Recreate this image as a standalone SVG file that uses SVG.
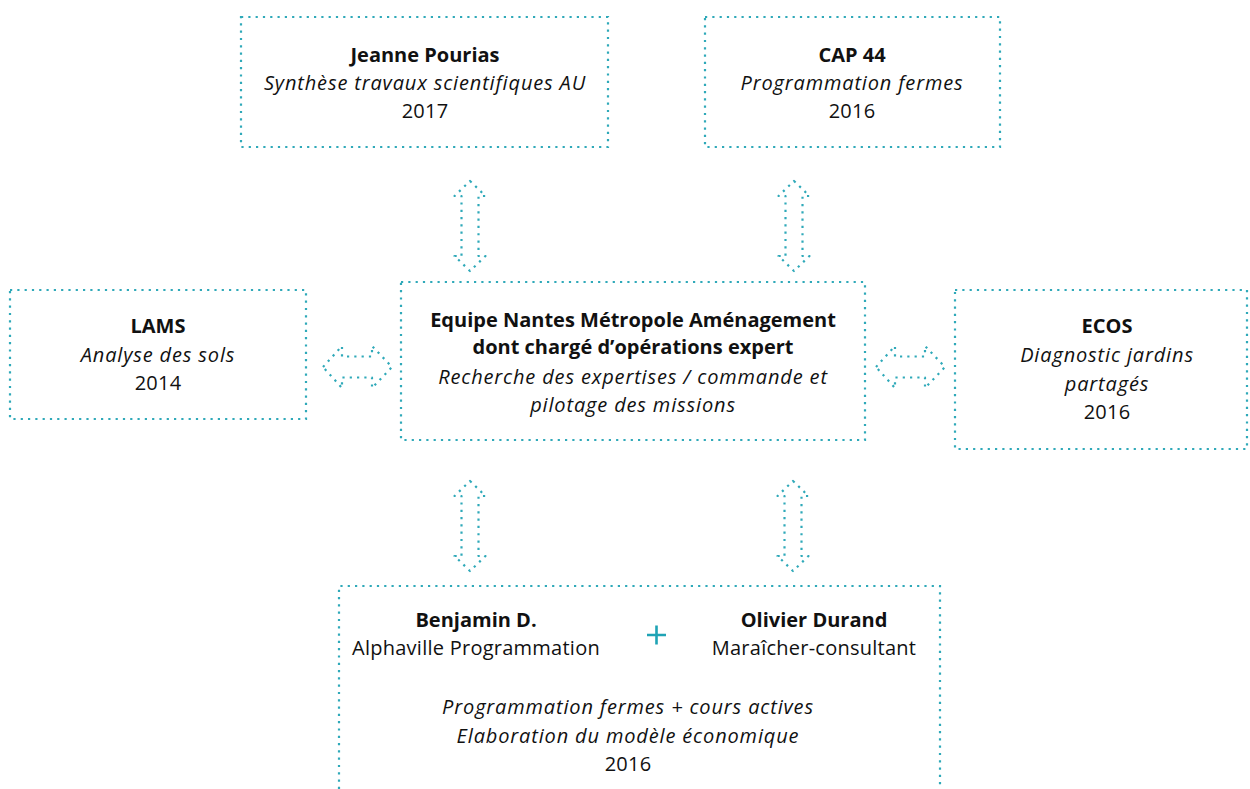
<svg xmlns="http://www.w3.org/2000/svg" width="1250" height="789" viewBox="0 0 1250 789">
<style>
.box{fill:none;stroke:#2fa9b9;stroke-width:2.2;stroke-dasharray:2.2 5.1}
.arr{fill:none;stroke:#2fa9b9;stroke-width:2.2;stroke-dasharray:2.2 5.1;stroke-linejoin:round}
text{font-family:"Open Sans","Liberation Sans",sans-serif;font-size:20px;fill:#111;text-anchor:middle;letter-spacing:0.25px}
.b{font-weight:bold;letter-spacing:0}
.i{font-style:italic;letter-spacing:0.85px}
</style>
<rect width="1250" height="789" fill="#fff"/>
<g id="jeanne">
<rect class="box" x="241" y="17" width="367" height="130"/>
<text class="b" x="425" y="62">Jeanne Pourias</text>
<text class="i" x="425" y="90">Synthèse travaux scientifiques AU</text>
<text x="425" y="118">2017</text>
</g>
<g id="cap44">
<rect class="box" x="705" y="17" width="295" height="130"/>
<text class="b" x="852" y="62">CAP 44</text>
<text class="i" x="852" y="90">Programmation fermes</text>
<text x="852" y="118">2016</text>
</g>
<g id="lams">
<rect class="box" x="10" y="290" width="296" height="129"/>
<text class="b" x="158" y="333">LAMS</text>
<text class="i" x="158" y="362">Analyse des sols</text>
<text x="158" y="390">2014</text>
</g>
<g id="centre">
<rect class="box" x="401" y="282" width="464" height="158"/>
<text class="b" x="633" y="327">Equipe Nantes Métropole Aménagement</text>
<text class="b" x="633" y="354">dont chargé d’opérations expert</text>
<text class="i" x="633" y="384">Recherche des expertises / commande et</text>
<text class="i" x="633" y="412">pilotage des missions</text>
</g>
<g id="ecos">
<rect class="box" x="955" y="290" width="292" height="159"/>
<text class="b" x="1107" y="333">ECOS</text>
<text class="i" x="1107" y="362">Diagnostic jardins</text>
<text class="i" x="1107" y="391">partagés</text>
<text x="1107" y="419">2016</text>
</g>
<g id="equipe-prog">
<path class="box" d="M339,789 V586 H940 V789"/>
<text class="b" x="476" y="627">Benjamin D.</text>
<text x="476" y="655">Alphaville Programmation</text>
<text class="b" x="814" y="627">Olivier Durand</text>
<text x="814" y="655">Maraîcher-consultant</text>
<path d="M647,635 H666 M656.5,625.5 V644.5" stroke="#1fa3b5" stroke-width="2.6" fill="none"/>
<text class="i" x="628" y="714">Programmation fermes + cours actives</text>
<text class="i" x="628" y="743">Elaboration du modèle économique</text>
<text x="628" y="771">2016</text>
</g>
<g id="connectors">
<path class="arr" d="M470,181 L485.5,196 H478.5 V256 H485.5 L470,271 L454.5,256 H461.5 V196 H454.5 Z"/>
<path class="arr" d="M794,181 L809.5,196 H802.5 V256 H809.5 L794,271 L778.5,256 H785.5 V196 H778.5 Z"/>
<path class="arr" d="M470,481 L485.5,496 H478.5 V556 H485.5 L470,571 L454.5,556 H461.5 V496 H454.5 Z"/>
<path class="arr" d="M793,481 L808.5,496 H801.5 V556 H808.5 L793,571 L777.5,556 H784.5 V496 H777.5 Z"/>
<path class="arr" d="M323,367 L342,346 V356.5 H372 V346 L392,367 L372,388 V377.5 H342 V388 Z"/>
<path class="arr" d="M876,367 L895,346 V356.5 H925 V346 L945,367 L925,388 V377.5 H895 V388 Z"/>
</g>
</svg>
